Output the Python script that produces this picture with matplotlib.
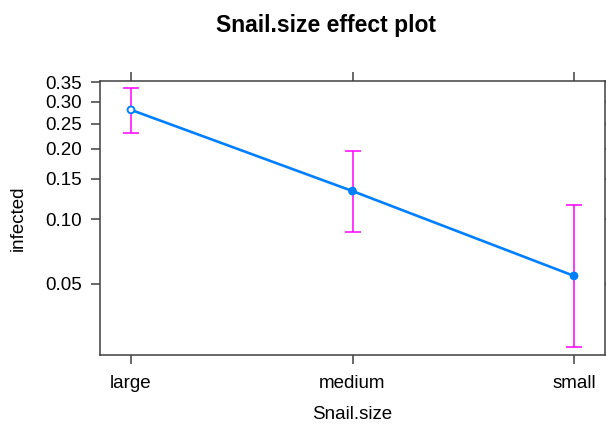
import matplotlib
matplotlib.use("Agg")
import matplotlib.pyplot as plt
import numpy as np

# effect estimates (probability scale, plotted on logit axis)
sizes = ["large", "medium", "small"]
fit = [0.281, 0.133, 0.0546]
lower = [0.230, 0.0875, 0.0247]
upper = [0.335, 0.196, 0.115]
yticks = [0.05, 0.10, 0.15, 0.20, 0.25, 0.30, 0.35]
ytick_labels = ["0.05", "0.10", "0.15", "0.20", "0.25", "0.30", "0.35"]

plt.rcParams['font.family'] = ['Liberation Sans', 'DejaVu Sans']

fig = plt.figure(figsize=(6.06, 4.24), dpi=100)
ax = fig.add_axes([100/606, 69/424, 505/606, 274/424])

x = np.arange(1, len(sizes) + 1)
fit = np.array(fit)
lower = np.array(lower)
upper = np.array(upper)

blue = "#0080ff"
mag = "#ff00ff"

ax.errorbar(x, fit, yerr=[fit - lower, upper - fit], fmt="none",
            ecolor=mag, elinewidth=1.1, capsize=5.5, capthick=1.1, zorder=2)
ax.plot(x, fit, color=blue, lw=1.9, zorder=3)
ax.scatter(x, fit, s=24, facecolors=["white", blue, blue],
           edgecolors=blue, linewidths=1.4, zorder=4)

ax.set_yscale("logit")
ax.set_ylim(0.0227, 0.3527)
ax.set_xlim(1 - 0.14, 3 + 0.14)
ax.set_yticks(yticks)
ax.set_yticklabels(ytick_labels)
ax.yaxis.set_minor_locator(matplotlib.ticker.NullLocator())
ax.set_xticks(x)
ax.set_xticklabels(sizes)

for s in ax.spines.values():
    s.set_color("#404040")
    s.set_linewidth(1.1)

ax.tick_params(axis="x", which="major", length=6.2, width=1.1, color="#404040",
               labelsize=13.5, pad=8.5, top=True, labeltop=False)
ax.tick_params(axis="y", which="major", length=6.5, width=1.1, color="#404040",
               labelsize=13.5, pad=6.5, right=True)

fig.text(326/606, 1 - 32/424, "Snail.size effect plot", ha="center",
         va="baseline", fontsize=16.5, fontweight="bold")
fig.text(352/606, 1/424, "Snail.size", ha="center", va="bottom", fontsize=13.5)
fig.text(18/606, 1 - 218/424, "infected", ha="center", va="center",
         rotation=90, fontsize=13.5)

fig.savefig("out.png", dpi=100)
